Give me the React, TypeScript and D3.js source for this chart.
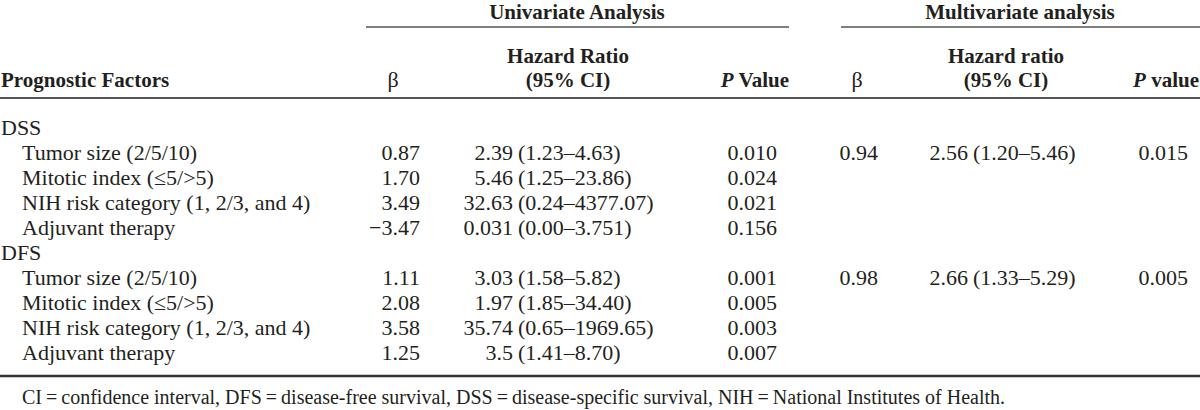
import React from "react";
import * as d3 from "d3";

const groups = ["DSS", "DFS"];
const factors = [
  "Tumor size (2/5/10)",
  "Mitotic index (≤5/>5)",
  "NIH risk category (1, 2/3, and 4)",
  "Adjuvant therapy",
];
const uniBeta = [
  ["0.87", "1.70", "3.49", "−3.47"],
  ["1.11", "2.08", "3.58", "1.25"],
];
const uniHR = [
  ["2.39", "5.46", "32.63", "0.031"],
  ["3.03", "1.97", "35.74", "3.5"],
];
const uniCI = [
  ["(1.23–4.63)", "(1.25–23.86)", "(0.24–4377.07)", "(0.00–3.751)"],
  ["(1.58–5.82)", "(1.85–34.40)", "(0.65–1969.65)", "(1.41–8.70)"],
];
const uniP = [
  ["0.010", "0.024", "0.021", "0.156"],
  ["0.001", "0.005", "0.003", "0.007"],
];
const multiBeta = [
  ["0.94", "", "", ""],
  ["0.98", "", "", ""],
];
const multiHR = [
  ["2.56", "", "", ""],
  ["2.66", "", "", ""],
];
const multiCI = [
  ["(1.20–5.46)", "", "", ""],
  ["(1.33–5.29)", "", "", ""],
];
const multiP = [
  ["0.015", "", "", ""],
  ["0.005", "", "", ""],
];
const footnote =
  "CI\u2009=\u2009confidence interval, DFS\u2009=\u2009disease-free survival, DSS\u2009=\u2009disease-specific survival, NIH\u2009=\u2009National Institutes of Health.";

const W = 1200;
const H = 410;
const FONT = "'Liberation Serif', 'Times New Roman', serif";
const TEXT = "#231f20";

export default function App() {
  const nRows = groups.length * (factors.length + 1);
  const y = d3.scaleLinear().domain([0, nRows - 1]).range([127.5, 353]);
  const base = (i: number) => y(i) + 7;

  const rows: React.ReactNode[] = [];
  let idx = 0;
  groups.forEach((g, gi) => {
    rows.push(
      <text key={`g${gi}`} x={1} y={base(idx)}>
        {g}
      </text>
    );
    idx++;
    factors.forEach((f, fi) => {
      const b = base(idx);
      rows.push(
        <g key={`r${gi}-${fi}`}>
          <text x={22} y={b}>{f}</text>
          <text x={420} y={b} textAnchor="end">{uniBeta[gi][fi]}</text>
          <text x={513} y={b} textAnchor="end">{uniHR[gi][fi]}</text>
          <text x={518} y={b}>{uniCI[gi][fi]}</text>
          <text x={777} y={b} textAnchor="end">{uniP[gi][fi]}</text>
          <text x={878} y={b} textAnchor="end">{multiBeta[gi][fi]}</text>
          <text x={968} y={b} textAnchor="end">{multiHR[gi][fi]}</text>
          <text x={973} y={b}>{multiCI[gi][fi]}</text>
          <text x={1188} y={b} textAnchor="end">{multiP[gi][fi]}</text>
        </g>
      );
      idx++;
    });
  });

  return (
    <svg
      width={W}
      height={H}
      style={{ position: "absolute", left: 0, top: 0, background: "#fff" }}
      fontFamily={FONT}
      fontSize={22}
      fill={TEXT}
    >
      <rect x={0} y={0} width={W} height={H} fill="#fff" />
      <g fontWeight="bold" fontSize={21}>
        <text x={577} y={19} textAnchor="middle">Univariate Analysis</text>
        <text x={1020} y={19} textAnchor="middle">Multivariate analysis</text>
        <text x={568} y={63} textAnchor="middle">Hazard Ratio</text>
        <text x={568} y={87} textAnchor="middle">(95% CI)</text>
        <text x={1006} y={63} textAnchor="middle">Hazard ratio</text>
        <text x={1006} y={87} textAnchor="middle">(95% CI)</text>
        <text x={1} y={87}>Prognostic Factors</text>
        <text x={789} y={87} textAnchor="end">
          <tspan fontStyle="italic">P</tspan> Value
        </text>
        <text x={1199} y={87} textAnchor="end">
          <tspan fontStyle="italic">P</tspan> value
        </text>
      </g>
      <text x={393} y={87} textAnchor="middle">β</text>
      <text x={857} y={87} textAnchor="middle">β</text>
      <line x1={366} x2={789} y1={27} y2={27} stroke="#555" strokeWidth={1.5} />
      <line x1={841} x2={1200} y1={27} y2={27} stroke="#555" strokeWidth={1.5} />
      <line x1={0} x2={1200} y1={98} y2={98} stroke="#555" strokeWidth={1.8} />
      {rows}
      <line x1={0} x2={1200} y1={376} y2={376} stroke="#333" strokeWidth={2.5} />
      <text x={22} y={404} fontSize={20}>{footnote}</text>
    </svg>
  );
}
